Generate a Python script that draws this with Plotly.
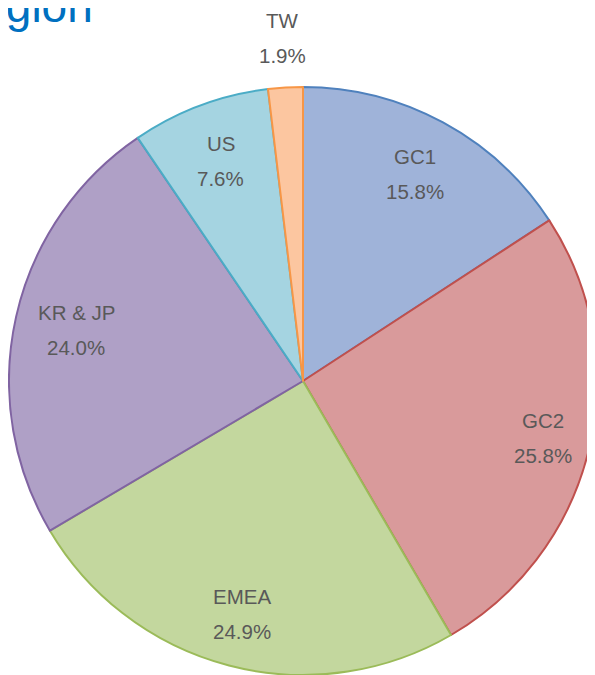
import math
import plotly.graph_objects as go

regions = ["GC1", "GC2", "EMEA", "KR & JP", "US", "TW"]
shares = [15.8, 25.8, 24.9, 24.0, 7.6, 1.9]
fill_colors = ["#9FB3D9", "#D99A9B", "#C3D79E", "#AFA0C6", "#A5D4E1", "#FCC6A0"]
line_colors = ["#4F81BD", "#C0504D", "#9BBB59", "#8064A2", "#4BACC6", "#F79646"]
label_radius = [0.80, 0.84, 0.82, 0.79, 0.80, 1.17]

# page body has an 8px default margin; figure placed so the pie runs to the window edges
W, H = 589, 667
ML, MR, MT, MB = 1, 0, 79, 0
pw, ph = W - ML - MR, H - MT - MB
R = min(pw, ph) / 2

fig = go.Figure(go.Pie(
    labels=regions,
    values=shares,
    sort=False,
    direction="clockwise",
    rotation=0,
    textinfo="none",
    hoverinfo="label+percent",
    marker=dict(colors=fill_colors, line=dict(color=line_colors, width=2)),
    showlegend=False,
    domain=dict(x=[0, 1], y=[0, 1]),
))

annotations = []
total = sum(shares)
cum = 0.0
for name, v, rf in zip(regions, shares, label_radius):
    mid = (cum + v / 2) / total * 2 * math.pi
    cum += v
    dx = rf * R * math.sin(mid)
    dy = rf * R * math.cos(mid)
    px = 0.5 + dx / pw
    py = 0.5 + dy / ph
    for txt, shift in ((name, 17.5), (f"{v:.1f}%", -17.5)):
        annotations.append(dict(
            x=px, y=py, xref="paper", yref="paper", text=txt, showarrow=False,
            xanchor="center", yanchor="middle", yshift=shift,
            font=dict(family="Liberation Sans, Arial, sans-serif", size=20.5, color="#595959"),
        ))

annotations.append(dict(
    x=(87 - ML) / pw, y=1 + (MT + 2) / ph, xref="paper", yref="paper",
    text="Region", showarrow=False, xanchor="right", yanchor="middle",
    font=dict(family="Liberation Sans, Arial, sans-serif", size=46, color="#0070C0"),
))

fig.update_layout(
    width=W, height=H,
    margin=dict(l=ML, r=MR, t=MT, b=MB, pad=0),
    paper_bgcolor="white", plot_bgcolor="white",
    annotations=annotations,
)

fig.write_html("out.html")
